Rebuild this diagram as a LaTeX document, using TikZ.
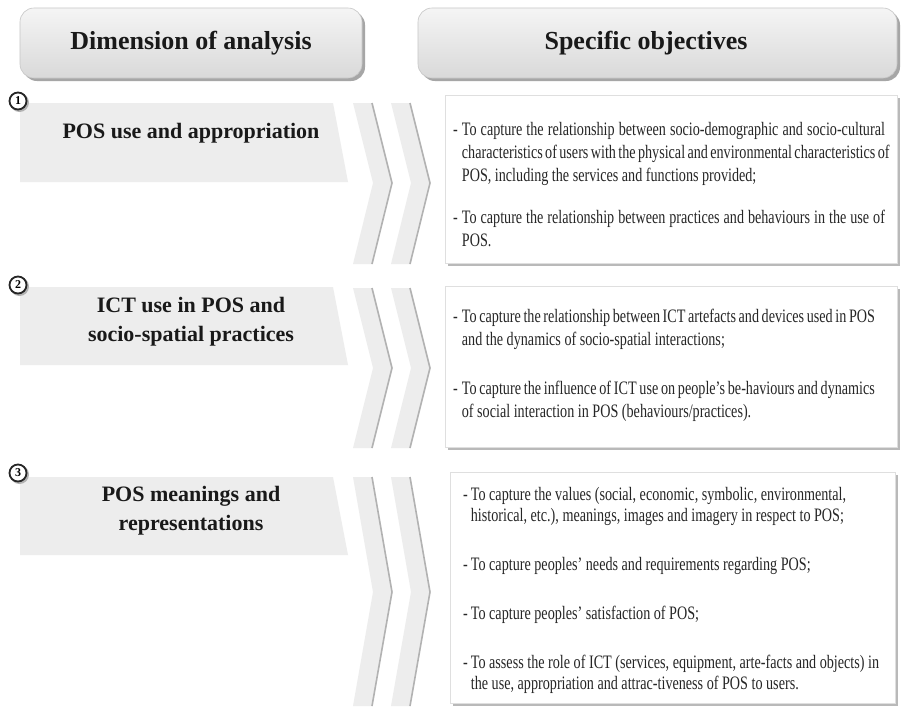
\documentclass[tikz,border=0pt]{standalone}
\usepackage{fontspec}
\setmainfont{Liberation Serif}
\newfontfamily\objfont{Liberation Serif}[FakeStretch=0.745]
\newcommand\mychev[4]{%
  \fill[chevfill] (#1,#2) -- (#1+19,#2) -- (#1+39,#3) -- (#1+19,#4) -- (#1,#4) -- (#1+20,#3) -- cycle;
  \draw[chevedge] (#1+19,#2) -- (#1+39,#3) -- (#1+19,#4);
}
\newcommand\jl[2]{\makebox[#1pt][s]{#2}}
\tikzset{
  headbox/.style={rounded corners=14pt, top color=gray!8, bottom color=gray!30, draw=gray!45, line width=0.6pt},
  headshadow/.style={rounded corners=14pt, fill=gray!70},
  headtext/.style={font=\bfseries\fontsize{26}{30}\selectfont, text=black!90},
  dimbox/.style={fill=gray!14},
  dimtext/.style={font=\bfseries\fontsize{22}{29}\selectfont, align=center, text=black!90},
  objbox/.style={fill=white, draw=gray!25, line width=0.6pt},
  objshadow/.style={fill=gray!55},
  chevfill/.style={fill=gray!14},
  chevedge/.style={draw=gray!60, line width=1.6pt, line join=round},
  numcircle/.style={circle, draw=black!85, line width=1.8pt, fill=white, inner sep=0pt, minimum size=17pt, font=\bfseries\fontsize{12}{12}\selectfont},
  numshadow/.style={circle, fill=gray!60, inner sep=0pt, minimum size=19pt},
  objtext/.style={anchor=base west, inner sep=0pt, text=black!85},
}
\begin{document}
\begin{tikzpicture}[x=1pt,y=-1pt]
\useasboundingbox (0,0) rectangle (901,710);
\fill[white] (0,0) rectangle (901,710);
% headers
\fill[headshadow] (23,11) rectangle (365,81);
\path[headbox] (20,8) rectangle (362,78);
\node[headtext] (h1) at (191,43) {Dimension of analysis};
\fill[headshadow] (421,11) rectangle (900,81);
\path[headbox] (418,8) rectangle (897,78);
\node[headtext] (h2) at (646,43) {Specific objectives};

% section 1
\fill[dimbox] (20,103) -- (333,103) -- (348,182) -- (20,182) -- cycle;
\node[dimtext] (d1) at (191,133) {POS use and appropriation};
\mychev{353}{103}{183}{264}
\mychev{391}{103}{183}{264}
\fill[objshadow] (448,98) rectangle (900,266);
\path[objbox] (445,95) rectangle (897,263);
\node[objtext] (o1) at (453,135) {\objfont\fontsize{19}{23}\selectfont
\begin{tabular}[t]{@{}l@{\hspace{4pt}}l@{}}
- & \jl{423}{To capture the relationship between socio-demographic and socio-cultural}\\
  & \jl{423}{characteristics of users with the physical and environmental characteristics of}\\
  & POS, including the services and functions provided;\\[19pt]
- & \jl{423}{To capture the relationship between practices and behaviours in the use of}\\
  & POS.
\end{tabular}};
\node[numshadow] (s1) at (19.5,102.5) {};
\node[numcircle] (n1) at (18,101) {1};

% section 2
\fill[dimbox] (20,287) -- (333,287) -- (348,365) -- (20,365) -- cycle;
\node[dimtext] (d2) at (191,322) {ICT use in POS and\\socio-spatial practices};
\mychev{353}{288}{368}{448}
\mychev{391}{288}{368}{448}
\fill[objshadow] (448,289) rectangle (900,450);
\path[objbox] (445,286) rectangle (897,447);
\node[objtext] (o2) at (453,322) {\objfont\fontsize{19}{23}\selectfont
\begin{tabular}[t]{@{}l@{\hspace{4pt}}l@{}}
- & \jl{413}{To capture the relationship between ICT artefacts and devices used in POS}\\
  & and the dynamics of socio-spatial interactions;\\[26pt]
- & \jl{413}{To capture the influence of ICT use on people’s be-haviours and dynamics}\\
  & of social interaction in POS (behaviours/practices).
\end{tabular}};
\node[numshadow] (s2) at (19.5,286.5) {};
\node[numcircle] (n2) at (18,285) {2};

% section 3
\fill[dimbox] (20,477) -- (333,477) -- (348,555) -- (20,555) -- cycle;
\node[dimtext] (d3) at (191,511) {POS meanings and\\representations};
\mychev{353}{477}{592}{706}
\mychev{391}{477}{592}{706}
\fill[objshadow] (453,475) rectangle (898,706);
\path[objbox] (450,472) rectangle (895,703);
\node[objtext] (o3) at (463,500) {\objfont\fontsize{19}{21}\selectfont
\begin{tabular}[t]{@{}l@{\hspace{3pt}}l@{}}
- & To capture the values (social, economic, symbolic, environmental,\\
  & historical, etc.), meanings, images and imagery in respect to POS;\\[28pt]
- & To capture peoples’ needs and requirements regarding POS;\\[28pt]
- & To capture peoples’ satisfaction of POS;\\[28pt]
- & To assess the role of ICT (services, equipment, arte-facts and objects) in\\
  & the use, appropriation and attrac-tiveness of POS to users.
\end{tabular}};
\node[numshadow] (s3) at (19.5,474.5) {};
\node[numcircle] (n3) at (18,473) {3};
\end{tikzpicture}
\end{document}
